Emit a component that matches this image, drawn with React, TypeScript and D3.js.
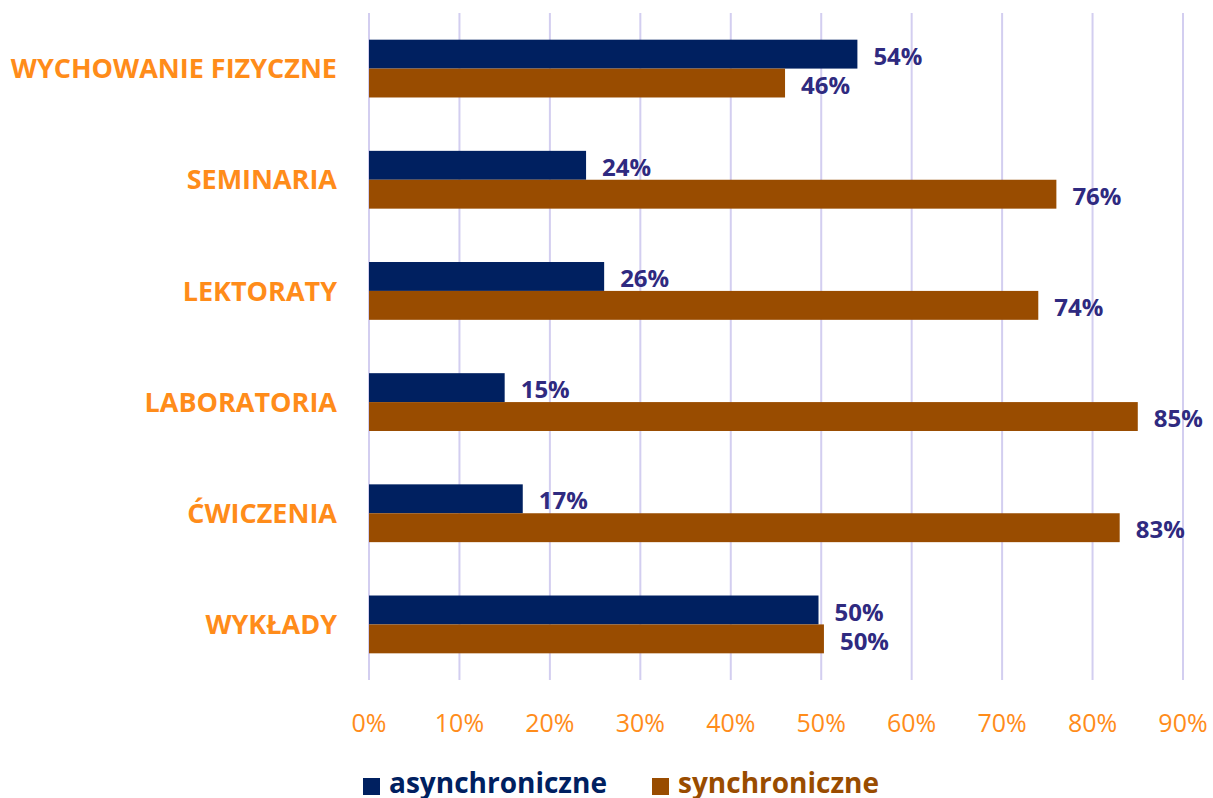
import React, { useEffect, useRef } from "react";
import * as d3 from "d3";

const categories = ["WYCHOWANIE FIZYCZNE", "SEMINARIA", "LEKTORATY", "LABORATORIA", "ĆWICZENIA", "WYKŁADY"];
const asynchroniczne = [54, 24, 26, 15, 17, 49.7];
const synchroniczne = [46, 76, 74, 85, 83, 50.3];
const seriesNames = ["asynchroniczne", "synchroniczne"];
const xTicks = [0, 10, 20, 30, 40, 50, 60, 70, 80, 90];

const FONT = "'Open Sans', 'DejaVu Sans', sans-serif";

export default function App() {
  const ref = useRef<SVGSVGElement>(null);

  useEffect(() => {
    const width = 1213;
    const height = 798;
    const left = 369;
    const right = 1183;
    const top = 13;
    const bottom = 680;

    const colors = ["#002060", "#994C00"];
    const orange = "#FF8C1A";
    const labelColor = "#2F2A80";

    const svg = d3.select(ref.current).attr("width", width).attr("height", height);
    svg.selectAll("*").remove();

    const x = d3.scaleLinear().domain([0, 90]).range([left, right]);
    const y = d3.scaleBand<string>().domain(categories).range([top, bottom]).paddingInner(0.48).paddingOuter(0.24);
    const ySub = d3.scaleBand<string>().domain(seriesNames).range([0, y.bandwidth()]);

    // gridlines
    svg.append("g").selectAll("line").data(xTicks).join("line")
      .attr("x1", d => x(d)).attr("x2", d => x(d))
      .attr("y1", top).attr("y2", bottom)
      .attr("stroke", "#D3CEF0").attr("stroke-width", 2);

    // tick labels
    svg.append("g").selectAll("text").data(xTicks).join("text")
      .attr("x", d => x(d)).attr("y", 732)
      .attr("text-anchor", "middle")
      .attr("font-family", FONT).attr("font-size", 25)
      .attr("fill", orange)
      .text(d => d + "%");

    // category labels
    svg.append("g").selectAll("text").data(categories).join("text")
      .attr("x", 337).attr("y", d => (y(d) as number) + y.bandwidth() / 2)
      .attr("dy", "0.36em")
      .attr("text-anchor", "end")
      .attr("font-family", FONT).attr("font-weight", 700).attr("font-size", 27)
      .attr("fill", orange)
      .text(d => d);

    const series = [asynchroniczne, synchroniczne];
    series.forEach((vals, si) => {
      const g = svg.append("g");
      const name = seriesNames[si];
      g.selectAll("rect").data(categories).join("rect")
        .attr("x", x(0))
        .attr("y", (d) => (y(d) as number) + (ySub(name) as number))
        .attr("width", (d, i) => x(vals[i]) - x(0))
        .attr("height", ySub.bandwidth())
        .attr("fill", colors[si]);

      g.selectAll("text").data(categories).join("text")
        .attr("x", (d, i) => x(vals[i]) + 16)
        .attr("y", (d) => (y(d) as number) + (ySub(name) as number) + ySub.bandwidth() / 2 + 2)
        .attr("dy", "0.36em")
        .attr("font-family", FONT).attr("font-weight", 700).attr("font-size", 24)
        .attr("fill", labelColor)
        .text((d, i) => Math.round(vals[i]) + "%");
    });

    // legend
    const legendX = [363, 652];
    seriesNames.forEach((name, i) => {
      svg.append("rect")
        .attr("x", legendX[i]).attr("y", 778)
        .attr("width", 17).attr("height", 17)
        .attr("fill", colors[i]);
      svg.append("text")
        .attr("x", legendX[i] + 26).attr("y", 793)
        .attr("font-family", FONT).attr("font-weight", 700).attr("font-size", 28)
        .attr("fill", colors[i])
        .text(name);
    });
  }, []);

  return (
    <svg ref={ref} style={{ position: "absolute", left: 0, top: 0, background: "#fff" }}></svg>
  );
}
